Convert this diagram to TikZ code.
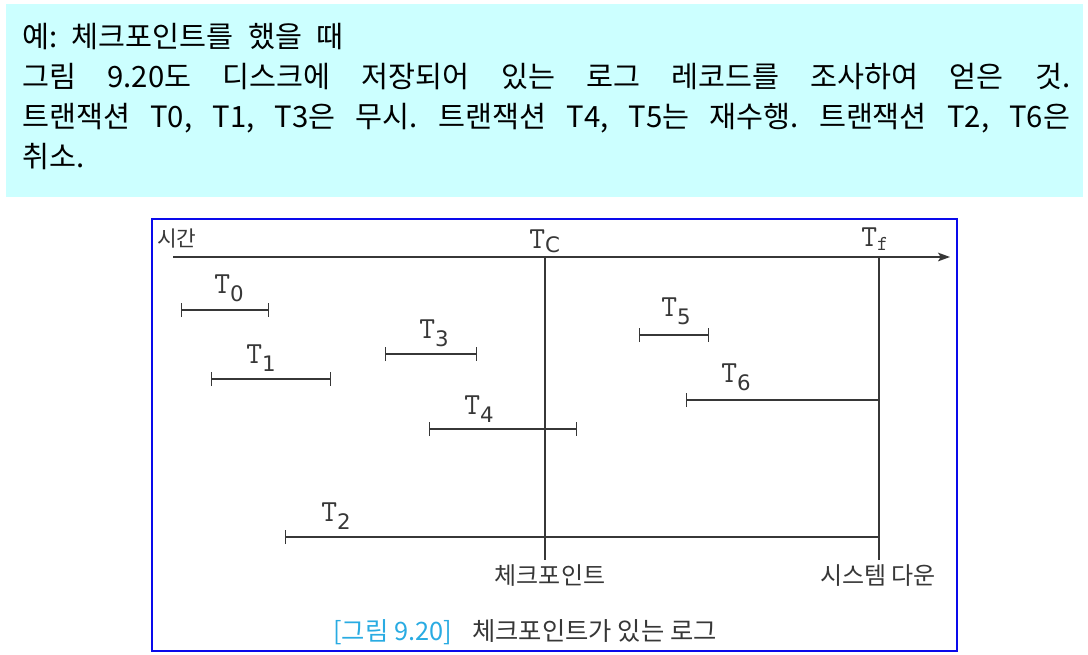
\documentclass[tikz,border=0pt]{standalone}
\usepackage{fontspec}
\setmainfont{Noto Sans CJK KR}
\newfontfamily\notefont[WordSpace=2.2]{Noto Sans CJK KR}
\newfontfamily\subfont{DejaVu Sans}
\usetikzlibrary{arrows.meta,positioning}

\definecolor{notebg}{RGB}{204,255,255}
\definecolor{frameblue}{RGB}{10,10,235}
\definecolor{capblue}{RGB}{41,171,226}
\definecolor{ink}{RGB}{55,55,55}

% transaction name: T with a lowered index
\newcommand{\tname}[2][6pt]{{\ttfamily\fontsize{23}{23}\selectfont T}\raisebox{-#1}{\subfont\fontsize{16}{16}\selectfont #2}}

\begin{document}
\frenchspacing
\begin{tikzpicture}[
    x=0.75pt, y=-0.75pt,
    note/.style={inner sep=0pt, anchor=base west, font=\notefont\fontsize{22}{22}\selectfont},
    label/.style={inner sep=0pt, text=ink, font=\fontsize{18}{18}\selectfont},
    tlabel/.style={inner sep=0pt, anchor=base west, text=ink},
    line/.style={draw=ink, line width=1pt},
    txn/.style={line, {Bar[width=10.5pt]}-{Bar[width=10.5pt]}},
    open/.style={line, {Bar[width=10.5pt]}-},
    axis/.style={line, -{Stealth[length=9pt, width=6.5pt, inset=2pt]}}
]
\useasboundingbox (0,0) rectangle (1088,654);

% note box on top
\fill[notebg] (6,4) rectangle (1083,197);
\node[note] (line1) at (22,47) {예: 체크포인트를 했을 때};
\node[note] (line2) at (22,87) {\makebox[786pt][s]{그림 9.20도 디스크에 저장되어 있는 로그 레코드를 조사하여 얻은 것.}};
\node[note] (line3) at (22,127) {\makebox[786pt][s]{트랜잭션 T0, T1, T3은 무시. 트랜잭션 T4, T5는 재수행. 트랜잭션 T2, T6은}};
\node[note] (line4) at (22,167) {취소.};

% figure frame
\draw[frameblue, line width=1.1pt] (152,219) rectangle (957,651);

% time axis
\coordinate (tstart) at (173,257);
\coordinate (tend) at (950,257);
\draw[axis] (tstart) -- (tend);
\node[label, anchor=base west, font=\fontsize{16}{16}\selectfont] (time) at (157,246) {시간};

% checkpoint and failure
\coordinate (ckp) at (545,257);
\coordinate (ckpend) at (545,560);
\coordinate (fail) at (879,257);
\coordinate (failend) at (879,560);
\draw[line] (ckp) -- (ckpend);
\draw[line] (fail) -- (failend);
\node[tlabel] (tc) at (529,248) {\tname[3pt]{C}};
\node[tlabel] (tf) at (861,246) {\tname[3pt]{\ttfamily f}};
\node[label, anchor=base] (ckplabel) at (550,584) {체크포인트};
\node[label, anchor=base] (faillabel) at (878,584) {시스템 다운};

% transactions
\coordinate (s0) at (181,310);  \coordinate (e0) at (269,310);
\coordinate (s1) at (211,379);  \coordinate (e1) at (331,379);
\coordinate (s3) at (385,354);  \coordinate (e3) at (477,354);
\coordinate (s4) at (429,429);  \coordinate (e4) at (577,429);
\coordinate (s5) at (639,335);  \coordinate (e5) at (709,335);
\coordinate (s6) at (686,400);  \coordinate (e6) at (fail |- s6);
\coordinate (s2) at (285,537);  \coordinate (e2) at (fail |- s2);

\draw[txn] (s0) -- (e0);
\draw[txn] (s1) -- (e1);
\draw[txn] (s3) -- (e3);
\draw[txn] (s4) -- (e4);
\draw[txn] (s5) -- (e5);
\draw[open] (s6) -- (e6);
\draw[open] (s2) -- (e2);

\node[tlabel] (n0) at (214,293) {\tname{0}};
\node[tlabel] (n1) at (246,363) {\tname{1}};
\node[tlabel] (n3) at (419,338) {\tname{3}};
\node[tlabel] (n4) at (464,414) {\tname{4}};
\node[tlabel] (n5) at (661,316) {\tname{5}};
\node[tlabel] (n6) at (721,382) {\tname{6}};
\node[tlabel] (n2) at (321,521) {\tname{2}};

% caption
\node[inner sep=0pt, anchor=base west, text=capblue, font=\fontsize{19}{19}\selectfont] (capnum) at (333,640) {[그림 9.20]};
\node[inner sep=0pt, anchor=base west, text=ink, font=\fontsize{19}{19}\selectfont] (captext) at (472,640) {체크포인트가 있는 로그};
\end{tikzpicture}
\end{document}
